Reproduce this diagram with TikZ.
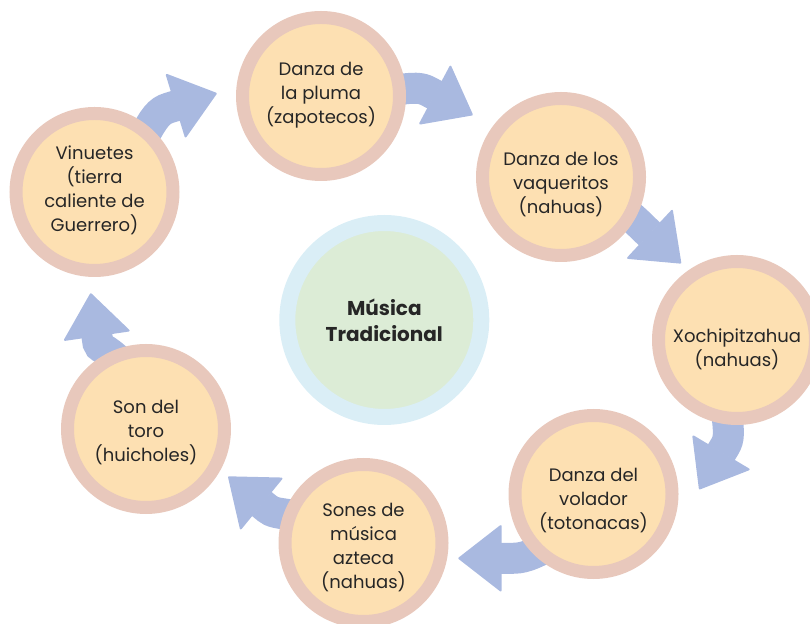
\documentclass[tikz,border=0pt]{standalone}
\usepackage{fontspec}
\setmainfont{Poppins}
\usetikzlibrary{arrows.meta,backgrounds,calc}
\definecolor{arrowc}{RGB}{169,185,224}
\definecolor{ringc}{RGB}{232,200,188}
\definecolor{fillc}{RGB}{253,224,178}
\definecolor{cring}{RGB}{218,238,246}
\definecolor{cfill}{RGB}{220,236,214}
\definecolor{txt}{RGB}{38,38,38}
\begin{document}
\begin{tikzpicture}[x=1pt,y=1pt,
 item/.style={circle,draw=ringc,line width=13pt,fill=fillc,minimum size=157pt,inner sep=0pt},
 lbl/.style={align=center,text=txt,inner sep=0pt,font=\fontsize{18}{24}\selectfont},
 hub/.style={circle,draw=cring,line width=16pt,fill=cfill,minimum size=194pt,inner sep=0pt,align=center,text=txt,font=\fontsize{20}{26}\selectfont\bfseries},
 arr/.style={draw=arrowc,line width=31pt,-{Triangle[length=44pt,width=68pt,line width=2pt,round]},shorten <=-14pt}
]
\useasboundingbox (0,0) rectangle (810,623);
\node[hub] (hub) at (384.3,303) {Música\\Tradicional};
\node[item,label={[lbl,yshift=1pt]center:{Danza de\\la pluma\\(zapotecos)}}] (pluma) at (321,527) {};
\node[item,label={[lbl,yshift=-8pt]center:{Danza de los\\vaqueritos\\(nahuas)}}] (vaq) at (561,446) {};
\node[item,label={[lbl,yshift=-9pt]center:{Xochipitzahua\\(nahuas)}}] (xochi) at (737,283) {};
\node[item,label={[lbl,yshift=-7pt]center:{Danza del\\volador\\(totonacas)}}] (volador) at (593.5,129) {};
\node[item,label={[lbl,yshift=-5pt]center:{Sones de\\música\\azteca\\(nahuas)}}] (sones) at (363.5,80) {};
\node[item,label={[lbl,yshift=-4pt]center:{Son del\\toro\\(huicholes)}}] (toro) at (146,194) {};
\node[item,label={[lbl,yshift=2pt]center:{Vinuetes\\(tierra\\caliente de\\Guerrero)}}] (vin) at (94.5,431) {};
\coordinate (tA) at (216.7,529.7);
\coordinate (bA) at ($(tA)+(197:50)$);
\coordinate (tB) at (472.7,508);
\coordinate (bB) at ($(tB)+(152:50)$);
\coordinate (tC) at (681,359.7);
\coordinate (bC) at ($(tC)+(137:50)$);
\coordinate (tD) at (699.3,133.7);
\coordinate (bD) at ($(tD)+(59.2:50)$);
\coordinate (tE) at (458.3,64.7);
\coordinate (bE) at ($(tE)+(0:50)$);
\coordinate (tF) at (228.3,146.3);
\coordinate (bF) at ($(tF)+(-39.2:50)$);
\coordinate (tG) at (90.7,329.7);
\coordinate (bG) at ($(tG)+(-81.7:50)$);
\begin{scope}[on background layer]
\draw[arr] (vin.50) to[out=61,in=197] (bA) -- (tA);
\draw[arr] (pluma.5) to[out=8,in=152] (bB) -- (tB);
\draw[arr] (vaq.-30) to[out=-40,in=137] (bC) -- (tC);
\draw[arr] (xochi.-96) to[out=-83,in=59.2] (bD) -- (tD);
\draw[arr] (volador.-135) to[out=208,in=0] (bE) -- (tE);
\draw[arr] (sones.160) to[out=173,in=-39.2] (bF) -- (tF);
\draw[arr] (toro.115) to[out=134,in=-81.7] (bG) -- (tG);
\end{scope}
\end{tikzpicture}
\end{document}
